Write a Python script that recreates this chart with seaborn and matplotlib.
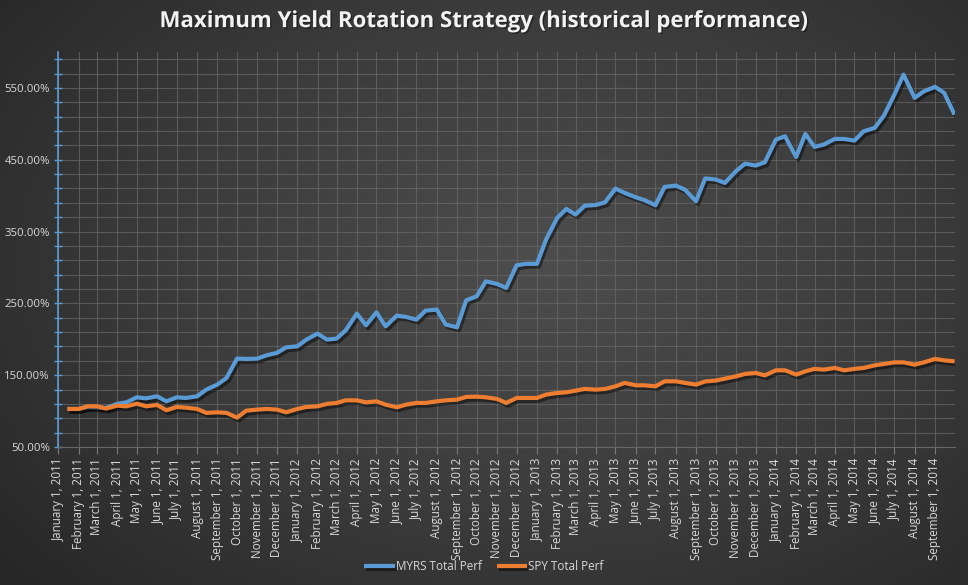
import numpy as np
import pandas as pd
import matplotlib
matplotlib.use("Agg")
import matplotlib.pyplot as plt
import matplotlib.patheffects as pe
from matplotlib.colors import LinearSegmentedColormap
from matplotlib.ticker import FixedLocator
import seaborn as sns

# ---------------------------
# Data (% of starting value)
# ---------------------------
dates = [pd.Timestamp("2011-01-15")]
for m in pd.date_range("2011-02-01", "2014-09-01", freq="MS"):
    dates += [m, m + pd.Timedelta(days=14)]
dates.append(pd.Timestamp("2014-10-01"))

myrs = [102.9, 102.9, 105.5, 105.0, 104.3, 110.0, 112.1, 119.1, 117.7, 120.5,
        113.5, 119.1, 118.2, 120.5, 129.8, 136.8, 146.1, 173.0, 172.6, 173.0,
        177.6, 181.0, 188.7, 190.1, 199.5, 207.8, 199.5, 200.9, 212.4, 235.7,
        219.4, 237.5, 218.0, 232.9, 231.1, 227.3, 239.9, 241.3, 220.4, 216.6,
        254.2, 259.8, 280.7, 277.0, 271.5, 303.0, 305.0, 305.0, 338.8, 369.0,
        381.5, 373.6, 386.0, 387.0, 390.7, 409.8, 403.8, 397.7, 393.5, 386.6,
        412.2, 414.0, 408.4, 392.1, 424.0, 422.5, 417.7, 434.0, 444.6, 441.9,
        446.4, 478.0, 482.7, 453.9, 486.0, 467.9, 471.1, 479.0, 479.0, 476.7,
        489.6, 494.4, 511.5, 540.8, 568.6, 536.2, 545.3, 551.5, 543.1, 512.9]

spy = [102.9, 102.9, 106.6, 106.6, 103.4, 107.5, 106.6, 110.3, 106.6, 108.5,
       101.0, 105.7, 104.7, 102.9, 97.4, 98.2, 97.4, 90.8, 100.5, 102.0,
       102.9, 102.0, 98.2, 102.9, 105.7, 106.6, 109.9, 111.3, 114.9, 114.9,
       112.1, 113.5, 108.9, 105.2, 108.9, 111.3, 111.3, 113.5, 114.9, 115.9,
       119.7, 120.0, 119.1, 116.9, 111.3, 118.2, 118.2, 118.2, 122.9, 125.2,
       126.1, 128.4, 130.8, 129.8, 130.8, 134.4, 139.2, 135.8, 135.8, 134.4,
       141.4, 141.4, 139.2, 136.8, 141.2, 142.4, 145.1, 148.3, 151.7, 153.1,
       149.7, 156.7, 156.7, 150.7, 155.3, 158.7, 157.7, 160.0, 156.7, 158.7,
       160.0, 163.7, 165.6, 167.8, 167.8, 164.6, 167.8, 172.6, 170.6, 169.2]

series_names = ["MYRS Total Perf", "SPY Total Perf"]
colors = {"MYRS Total Perf": "#5b9bd5", "SPY Total Perf": "#ed7d31"}

month_ticks = list(pd.date_range("2011-01-01", "2014-09-01", freq="MS"))
month_labels = [f"{d:%B} {d.day}, {d.year}" for d in month_ticks]

df = pd.DataFrame({
    "date": dates * 2,
    "value": myrs + spy,
    "series": [series_names[0]] * len(myrs) + [series_names[1]] * len(spy),
})

# ---------------------------
# Style
# ---------------------------
sns.set_theme(style="dark")
plt.rcParams["font.family"] = ["Open Sans", "DejaVu Sans"]
text_col = "#d9d9d9"
grid_col = "#676767"

fig = plt.figure(figsize=(9.68, 5.85), dpi=100)
fig.patch.set_facecolor("#333333")

# radial background
bg = fig.add_axes([0, 0, 1, 1], zorder=-10)
yy, xx = np.mgrid[0:1:300j, 0:1:500j]
r = np.sqrt(((xx - 0.56) / 0.75) ** 2 + ((yy - 0.55) / 0.85) ** 2)
cmap = LinearSegmentedColormap.from_list("bg", ["#4d4d4d", "#3c3c3c", "#262626"])
bg.imshow(np.clip(r, 0, 1), cmap=cmap, extent=[0, 1, 0, 1], aspect="auto", origin="lower")
bg.axis("off")

ax = fig.add_axes([0.0602, 0.236, 0.926, 0.675])
ax.set_facecolor("none")

sns.lineplot(data=df, x="date", y="value", hue="series", palette=colors,
             linewidth=3.0, ax=ax)

for ln in ax.lines:
    ln.set_solid_capstyle("butt")
    ln.set_path_effects([pe.SimpleLineShadow(offset=(1.5, -2.0), shadow_color="black", alpha=0.45),
                         pe.Normal()])

# axes limits & ticks
ax.set_xlim(pd.Timestamp("2011-01-01"), pd.Timestamp("2014-10-01"))
ax.set_ylim(50, 600)
ax.yaxis.set_major_locator(FixedLocator(np.arange(50, 600, 100)))
ax.yaxis.set_minor_locator(FixedLocator(np.arange(50, 600, 20)))
ax.set_yticklabels([f"{v:.2f}%" for v in np.arange(50, 600, 100)])
ax.set_xticks(month_ticks)
ax.set_xticklabels(month_labels, rotation=90)

ax.tick_params(axis="y", which="both", direction="inout", length=6, width=1,
               color="#5b9bd5", labelcolor=text_col, labelsize=8.2, pad=3, left=True)
ax.tick_params(axis="x", direction="out", length=5, width=0.8, color="#7a7a7a",
               labelcolor=text_col, labelsize=8.4, pad=3, bottom=True)

ax.grid(True, which="both", axis="y", color=grid_col, linewidth=0.8, alpha=0.75)
ax.grid(True, which="major", axis="x", color=grid_col, linewidth=0.8, alpha=0.75)
ax.set_axisbelow(True)

for side in ["top", "right"]:
    ax.spines[side].set_visible(False)
ax.spines["left"].set_color("#5b9bd5")
ax.spines["left"].set_linewidth(1.2)
ax.spines["bottom"].set_color(grid_col)
ax.spines["bottom"].set_linewidth(0.8)

ax.set_xlabel("")
ax.set_ylabel("")

handles, labels = ax.get_legend_handles_labels()
leg = ax.legend(handles, labels, loc="center", bbox_to_anchor=(0.5, 0.031),
                bbox_transform=fig.transFigure, ncol=2, frameon=False,
                fontsize=8.4, handlelength=2.6, handletextpad=0.1, columnspacing=1.3)
for t in leg.get_texts():
    t.set_color(text_col)
for h in leg.get_lines():
    h.set_linewidth(3.0)

fig.text(0.5, 0.963, "Maximum Yield Rotation Strategy (historical performance)",
         ha="center", va="center", fontsize=16, fontweight="bold", color="#f2f2f2",
         path_effects=[pe.withSimplePatchShadow(offset=(1, -1), shadow_rgbFace="black", alpha=0.4)])

fig.savefig("out.png", dpi=100, facecolor=fig.get_facecolor())
